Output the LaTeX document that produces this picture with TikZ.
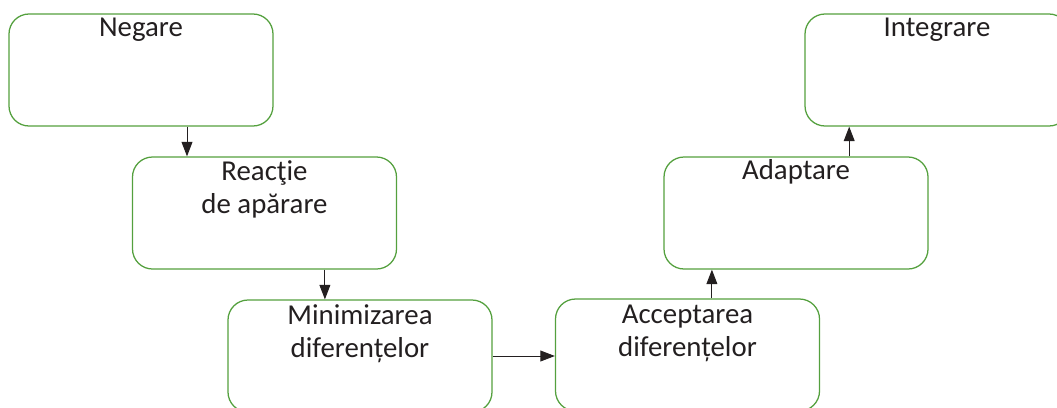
\documentclass[tikz,border=0pt]{standalone}
\usepackage{fontspec}
\setmainfont{Carlito}
\usetikzlibrary{arrows.meta}

\definecolor{stagegreen}{RGB}{84,160,62}
\definecolor{inkgray}{RGB}{35,31,32}

\tikzset{
    stage/.style={draw=stagegreen, line width=0.9pt, rounded corners=0.5cm, minimum width=6.6cm, minimum height=2.8cm},
    stagetext/.style={anchor=base, align=center, inner sep=0pt, text=inkgray, font=\fontsize{20.5}{23.5}\selectfont},
    >={Triangle[length=0.36cm, width=0.27cm]}
}

\begin{document}
\begin{tikzpicture}[line width=0.7pt, inkgray]
        \useasboundingbox (0,0) rectangle (26.425,-10.175);
        \clip (0,0) rectangle (26.425,-10.175);

        \draw (3.525, -1.75) node[stage] (negare) {};
        \draw (6.6125, -5.325) node[stage] (reactie) {};
        \draw (9, -8.9) node[stage] (minim) {};

        \draw (17.1875, -8.875) node[stage] (accept) {};
        \draw (19.9, -5.325) node[stage] (adapt) {};
        \draw (23.425, -1.75) node[stage] (integ) {};

        % base anchor sits on the last line
        \node[stagetext] (negaret) at ([yshift=-0.59cm]negare.north) {Negare};
        \node[stagetext] (reactiet) at ([yshift=-1.43cm]reactie.north) {Reacţie\\de apărare};
        \node[stagetext] (minimt) at ([yshift=-1.45cm]minim.north) {Minimizarea\\diferențelor};
        \node[stagetext] (acceptt) at ([yshift=-1.45cm]accept.north) {Acceptarea\\diferențelor};
        \node[stagetext] (adaptt) at ([yshift=-0.57cm]adapt.north) {Adaptare};
        \node[stagetext] (integt) at ([yshift=-0.59cm]integ.north) {Integrare};

        \draw[->] ([xshift=1.15cm]negare.south) -- ([xshift=1.15cm]negare.south |- reactie.north);
        \draw[->] ([xshift=1.51cm]reactie.south) -- ([xshift=1.51cm]reactie.south |- minim.north);
        \draw[->] (minim.east) -- (minim.east -| accept.west);

        \draw[->] ([xshift=0.61cm]accept.north) -- ([xshift=0.61cm]accept.north |- adapt.south);
        \draw[->] ([xshift=1.33cm]adapt.north) -- ([xshift=1.33cm]adapt.north |- integ.south);
    \end{tikzpicture}
\end{document}
